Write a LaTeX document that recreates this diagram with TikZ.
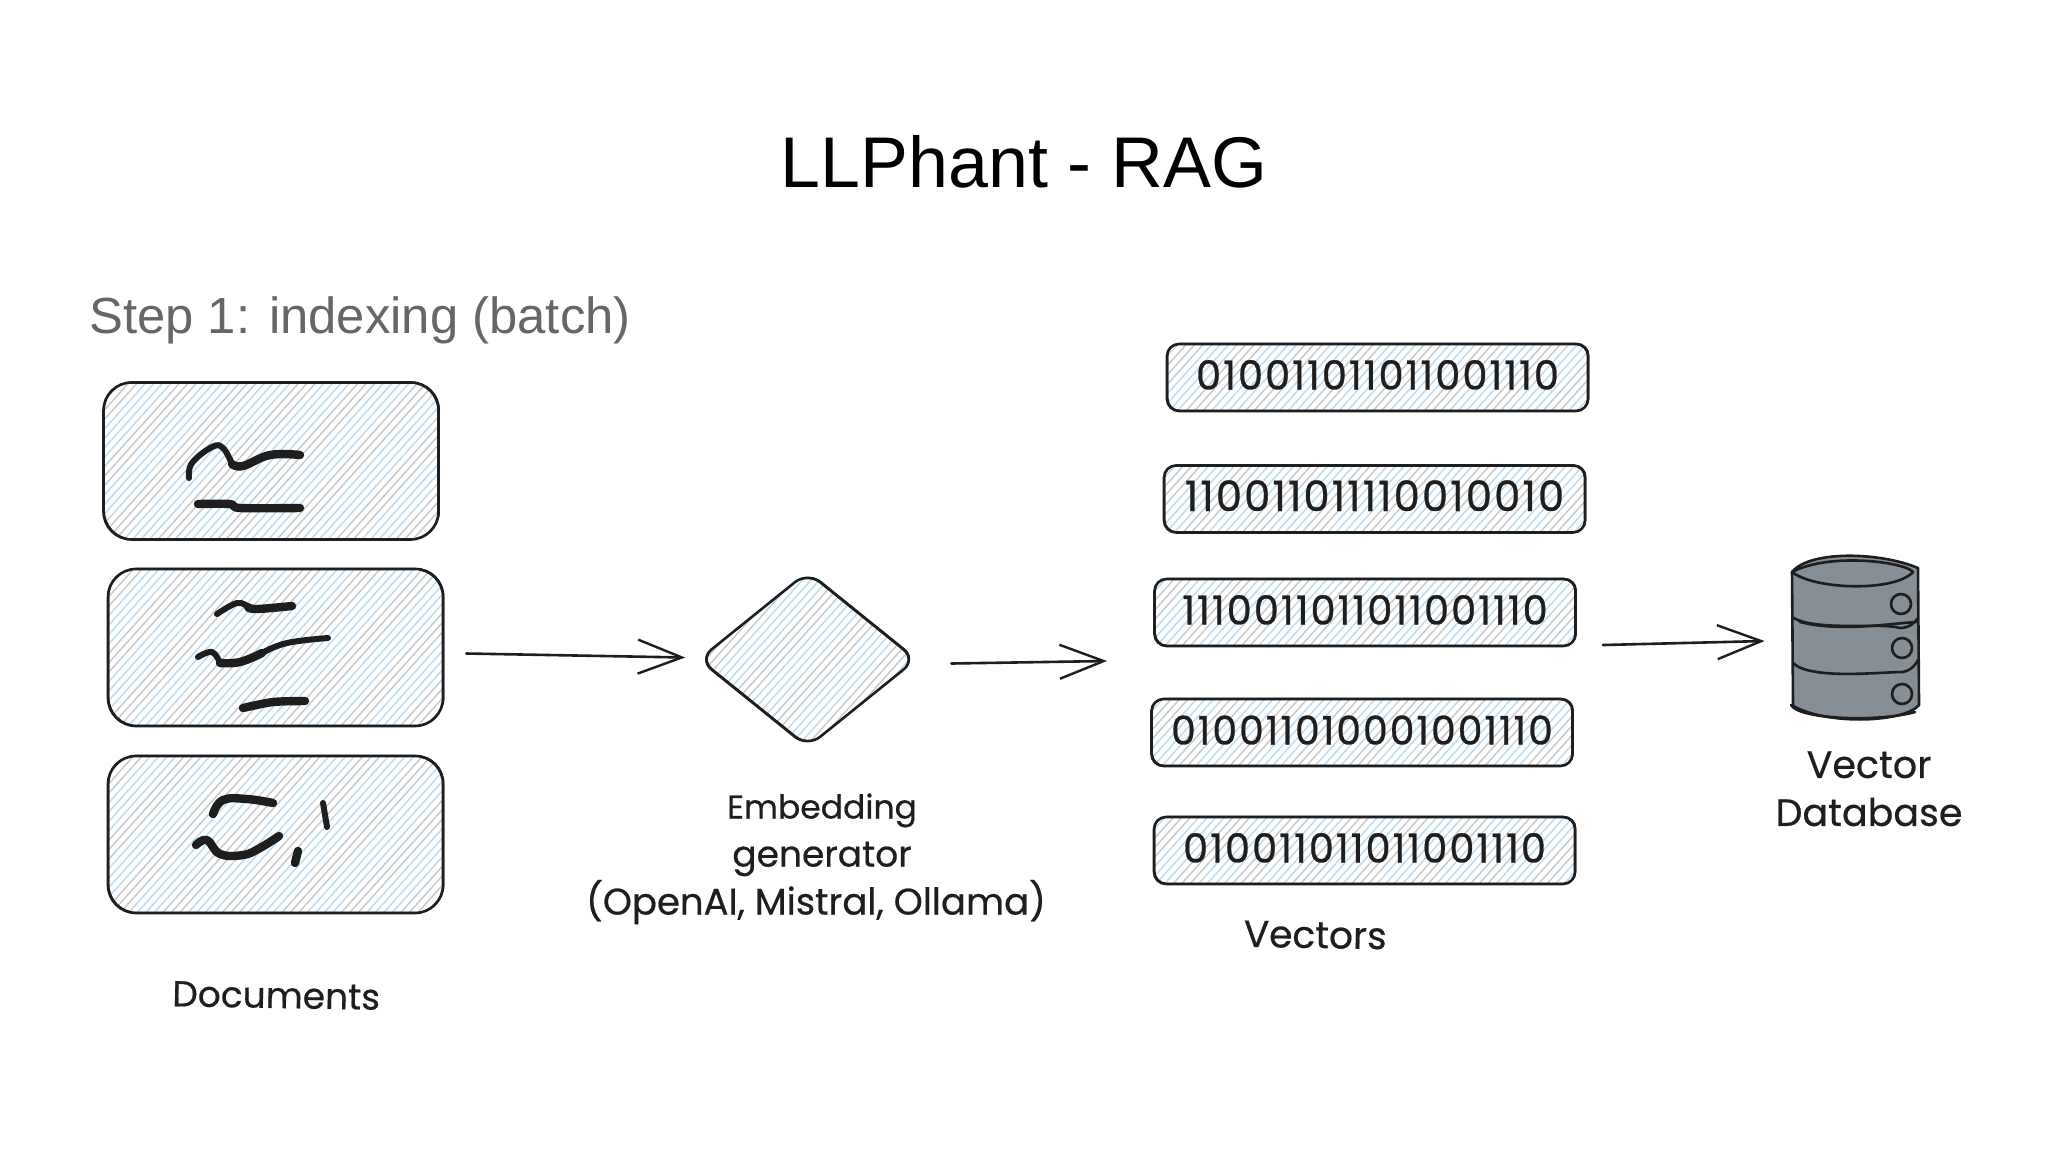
\documentclass[tikz,border=0pt]{standalone}
\usepackage{fontspec}
\setmainfont{Liberation Sans}
\newfontfamily\handf[FakeBold=0.5]{Poppins}
\newfontfamily\digitf[FakeBold=0.7,LetterSpace=5]{Poppins}
\usetikzlibrary{calc,arrows.meta,shapes.geometric}
\definecolor{ink}{HTML}{1E1E1E}
\definecolor{hgray}{HTML}{C6CACC}
\definecolor{hblue}{HTML}{BBDCF0}
\definecolor{dbgray}{HTML}{868E96}
\newcommand{\hatchfill}{%
  \foreach \i [evaluate=\i as \c using {int(mod(\i*\i+\i,7))}] in {-40,...,40}{%
    \ifnum\c<3 \def\hc{hblue}\else\def\hc{hgray}\fi
    \draw[\hc,line width=.72pt]
      ($(path picture bounding box.center)+(8.5*\i-180,200)$) --
      ($(path picture bounding box.center)+(8.5*\i+180,-200)$);
  }%
}
\tikzset{
  hatched/.style={draw=ink,line width=1.3pt,inner sep=0pt,path picture={\hatchfill},
    postaction={draw=ink,line width=.45pt,transform canvas={shift={(.5pt,.35pt)}}}},
  docbox/.style={hatched,rounded corners=14pt,minimum width=167.5pt,minimum height=78.5pt},
  vecbox/.style={hatched,rounded corners=6pt,minimum width=210.5pt,minimum height=33.5pt,
    font=\digitf\fontsize{20}{20}\selectfont,text=ink,text height=14pt,text depth=2pt},
  scribble/.style={ink,line width=4.2pt,line cap=round,line join=round},
  thinscribble/.style={ink,line width=3pt,line cap=round,line join=round},
  flow/.style={draw=ink,line width=1.3pt,line cap=round,-{Straight Barb[length=22pt,width=17pt,line width=1.2pt]}},
  handlabel/.style={font=\handf\fontsize{18}{24}\selectfont,text=ink,align=center,inner sep=0pt},
  dbline/.style={draw=ink,line width=1.3pt,line join=round,line cap=round},
}
\begin{document}
\begin{tikzpicture}[x=.5pt,y=-.5pt]
\useasboundingbox[fill=white] (0,0) rectangle (2048,1152);

\node[font=\fontsize{35.9}{40}\selectfont,text=black,anchor=base,inner sep=0pt] (title) at (1024,187) {LLPhant - RAG};
\node[font=\fontsize{25.4}{30}\selectfont,text={rgb,255:red,102;green,102;blue,102},anchor=base west,inner sep=0pt] (step1) at (89,333) {Step 1: indexing (batch)};

% documents
\node[docbox] (d1) at (271,461) {};
\node[docbox] (d2) at (275.5,647.5) {};
\node[docbox] (d3) at (275.5,834.5) {};
\node[handlabel,anchor=base,rotate=-1] (dlabel) at (276,1008) {Documents};

% scribbles
\draw[thinscribble] plot[smooth,tension=.7] coordinates {(189,478) (192,463) (212,447) (223,448) (232,464)};
\draw[scribble] plot[smooth,tension=.7] coordinates {(232,464) (243,466) (270,455) (300,455)};
\draw[scribble] plot[smooth,tension=.5] coordinates {(198,504) (230,504) (240,508) (300,508)};
\draw[thinscribble] plot[smooth,tension=.7] coordinates {(217,614) (237,603) (248,607)};
\draw[scribble] plot[smooth,tension=.7] coordinates {(248,607) (257,609) (292,606)};
\draw[thinscribble] plot[smooth,tension=.7] coordinates {(198,657) (212,652) (220,663)};
\draw[scribble] plot[smooth,tension=.7] coordinates {(220,663) (240,662) (262,653)};
\draw[thinscribble] plot[smooth,tension=.7] coordinates {(262,653) (287,643) (328,638)};
\draw[scribble] plot[smooth,tension=.5] coordinates {(243,708) (273,702) (305,701)};
\draw[scribble] plot[smooth,tension=.7] coordinates {(213,814) (223,800) (247,799) (273,803)};
\draw[scribble] plot[smooth,tension=.7] coordinates {(196,845) (207,840) (220,854) (243,855) (260,848) (279,836)};
\draw[thinscribble] (323,803) -- (327,827);
\draw[scribble] (298,851) -- (295,863);

% embedding generator
\node[hatched,shape=diamond,rounded corners=8pt,minimum width=109pt,minimum height=88pt] (dm) at (807.5,659.5) {};
\node[handlabel,anchor=north] (glabel) at (816,793)
  {\hspace*{6pt}\fontsize{16.5}{24}\selectfont Embedding\\\hspace*{6pt}generator\\\fontsize{18.5}{24}\selectfont (OpenAI, Mistral, Ollama)};

% vectors
\node[vecbox] (v1) at (1377.5,377.5) {010011011011001110};
\node[vecbox,font=\digitf\fontsize{20.9}{20}\selectfont] (v2) at (1374.5,499) {110011011110010010};
\node[vecbox] (v3) at (1365,612.5) {1110011011011001110};
\node[vecbox,font=\digitf\fontsize{19.7}{20}\selectfont] (v4) at (1362,732.5) {010011010001001110};
\node[vecbox] (v5) at (1364.5,850.5) {010011011011001110};
\node[handlabel,font=\handf\fontsize{18.8}{24}\selectfont,anchor=base,rotate=-1] (vlabel) at (1315,948) {Vectors};

% database
\path[dbline,fill=dbgray] (1792,572) .. controls (1810,550) and (1880,552) .. (1918,568) -- (1919,705) .. controls (1905,722) and (1830,726) .. (1793,706) -- cycle;
\draw[dbline] (1792,572) .. controls (1815,590) and (1895,592) .. (1913,572) .. controls (1905,562) and (1830,552) .. (1792,572);
\draw[dbline] (1792,617) .. controls (1815,632) and (1880,622) .. (1900,628) .. controls (1910,628) and (1915,622) .. (1918,618);
\draw[dbline] (1800,622) .. controls (1840,632) and (1885,624) .. (1916,622);
\draw[dbline] (1793,663) .. controls (1810,680) and (1880,672) .. (1903,672) .. controls (1912,670) and (1916,664) .. (1918,660);
\draw[dbline] (1791,705) .. controls (1800,720) and (1880,722) .. (1915,712);
\draw[dbline] (1901,604) circle [radius=10];
\draw[dbline] (1902,648) circle [radius=10];
\draw[dbline] (1902,694) circle [radius=10];
\node[minimum width=64pt,minimum height=83pt,inner sep=0pt] (db) at (1856,638) {};
\node[handlabel,font=\handf\fontsize{19}{24}\selectfont,anchor=north] (dblabel) at (1869,751) {Vector\\Database};

% connectors
\coordinate (vecin) at (1107,661);
\coordinate (vecout) at (1603,645);
\draw[flow] ($(d2.east)+(22,6)$) -- ($(dm.west)+(-12,-2)$);
\draw[flow] ($(dm.east)+(33.5,4)$) -- (vecin);
\draw[flow] (vecout) -- ($(db.west)+(-27,3)$);
\end{tikzpicture}
\end{document}
